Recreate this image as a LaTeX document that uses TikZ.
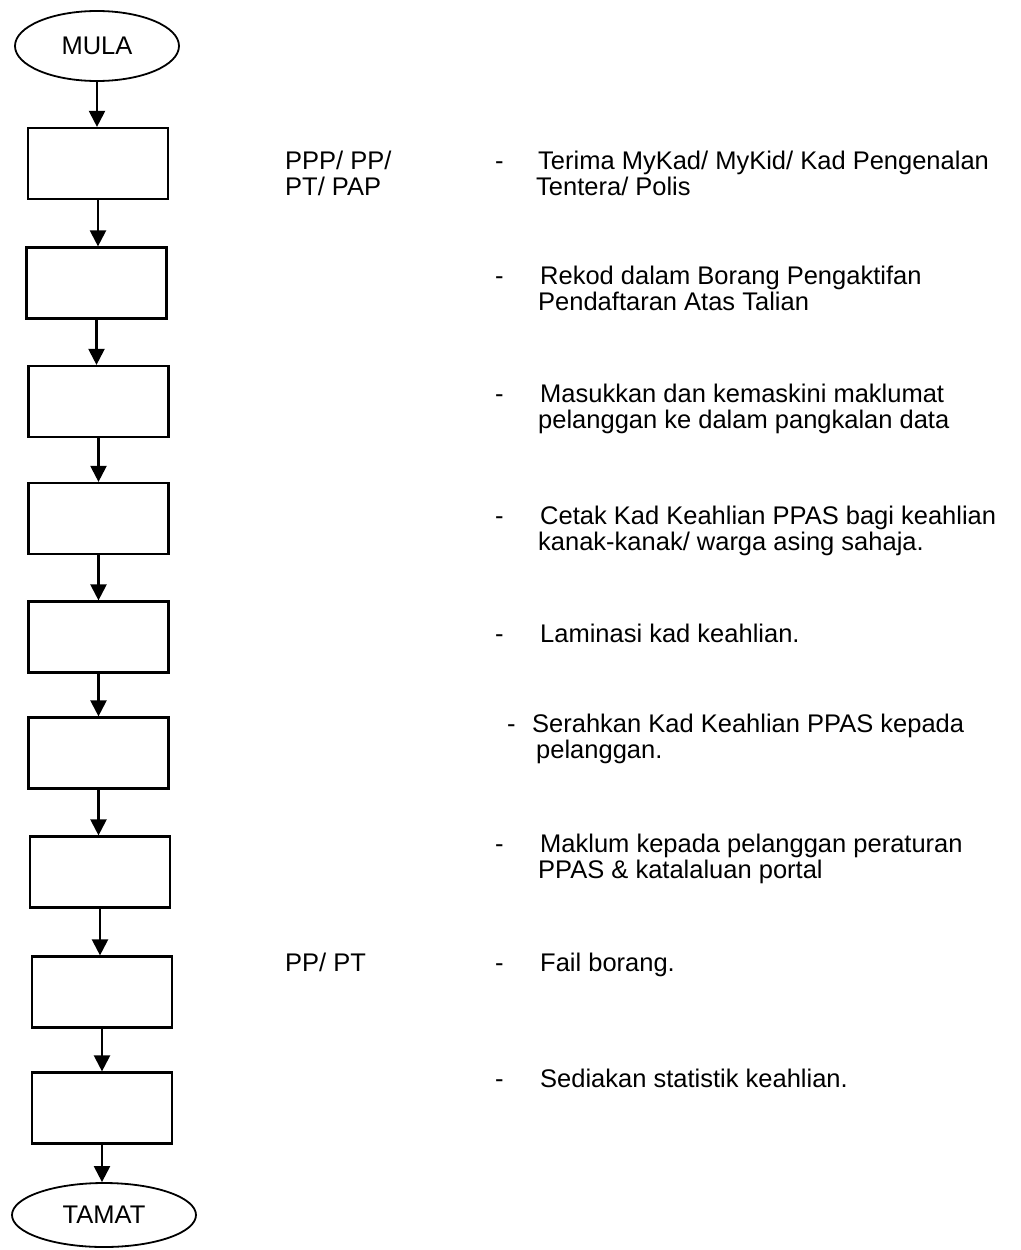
\documentclass[tikz,border=0pt]{standalone}
\usepackage{fontspec}
\setmainfont{Liberation Sans}
\usetikzlibrary{arrows.meta,shapes.geometric}
\newcommand\flowfont{\fontsize{25.5}{30}\selectfont}
\begin{document}
\begin{tikzpicture}[x=1pt,y=-1pt,
  stepbox/.style={draw, line width=2.2pt, minimum width=140pt, minimum height=71pt, inner sep=0pt},
  term/.style={draw, ellipse, line width=1.8pt, inner sep=0pt, font=\flowfont},
  flow/.style={line width=2.2pt, -{Triangle[width=16pt,length=16pt]}},
  txt/.style={anchor=base west, inner sep=0pt, font=\flowfont}]
\useasboundingbox (0,0) rectangle (1020,1250);

% terminals
\node[term, minimum width=164pt, minimum height=70pt] (mula) at (97,46) {MULA};
\node[term, minimum width=184pt, minimum height=64pt] (tamat) at (104,1215) {TAMAT};

% process boxes
\node[stepbox] (b1) at (98,163.5) {};
\node[stepbox] (b2) at (96.5,283) {};
\node[stepbox] (b3) at (98.5,401.5) {};
\node[stepbox] (b4) at (98.5,518.5) {};
\node[stepbox] (b5) at (98.5,637) {};
\node[stepbox] (b6) at (98.5,753) {};
\node[stepbox] (b7) at (100,872) {};
\node[stepbox] (b8) at (102,992) {};
\node[stepbox] (b9) at (102,1108) {};

% connectors
\draw[flow] (mula.south) -- (mula.south |- b1.north);
\draw[flow] (b1.south) -- (b1.south |- b2.north);
\draw[flow] (b2.south) -- (b2.south |- b3.north);
\draw[flow] (b3.south) -- (b3.south |- b4.north);
\draw[flow] (b4.south) -- (b4.south |- b5.north);
\draw[flow] (b5.south) -- (b5.south |- b6.north);
\draw[flow] (b6.south) -- (b6.south |- b7.north);
\draw[flow] (b7.south) -- (b7.south |- b8.north);
\draw[flow] (b8.south) -- (b8.south |- b9.north);
\draw[flow] (b9.south) -- (b9.south |- tamat.north);

% responsible officers
\node[txt] (r1a) at (285,169) {PPP/ PP/};
\node[txt] (r1b) at (285,195) {PT/ PAP};
\node[txt] (r8) at (285,971) {PP/ PT};

% step descriptions
\node[txt] (d1) at (495,169) {-};
\node[txt] (t1a) at (538,169) {Terima MyKad/ MyKid/ Kad Pengenalan};
\node[txt] (t1b) at (536,195) {Tentera/ Polis};

\node[txt] (d2) at (495,284) {-};
\node[txt] (t2a) at (540,284) {Rekod dalam Borang Pengaktifan};
\node[txt] (t2b) at (538,310) {Pendaftaran Atas Talian};

\node[txt] (d3) at (495,402) {-};
\node[txt] (t3a) at (540,402) {Masukkan dan kemaskini maklumat};
\node[txt] (t3b) at (538,428) {pelanggan ke dalam pangkalan data};

\node[txt] (d4) at (495,524) {-};
\node[txt] (t4a) at (540,524) {Cetak Kad Keahlian PPAS bagi keahlian};
\node[txt] (t4b) at (538,550) {kanak-kanak/ warga asing sahaja.};

\node[txt] (d5) at (495,642) {-};
\node[txt] (t5) at (540,642) {Laminasi kad keahlian.};

\node[txt] (d6) at (507,732) {-};
\node[txt] (t6a) at (532,732) {Serahkan Kad Keahlian PPAS kepada};
\node[txt] (t6b) at (536,758) {pelanggan.};

\node[txt] (d7) at (495,852) {-};
\node[txt] (t7a) at (540,852) {Maklum kepada pelanggan peraturan};
\node[txt] (t7b) at (538,878) {PPAS \& katalaluan portal};

\node[txt] (d8) at (495,971) {-};
\node[txt] (t8) at (540,971) {Fail borang.};

\node[txt] (d9) at (495,1087) {-};
\node[txt] (t9) at (540,1087) {Sediakan statistik keahlian.};
\end{tikzpicture}
\end{document}
